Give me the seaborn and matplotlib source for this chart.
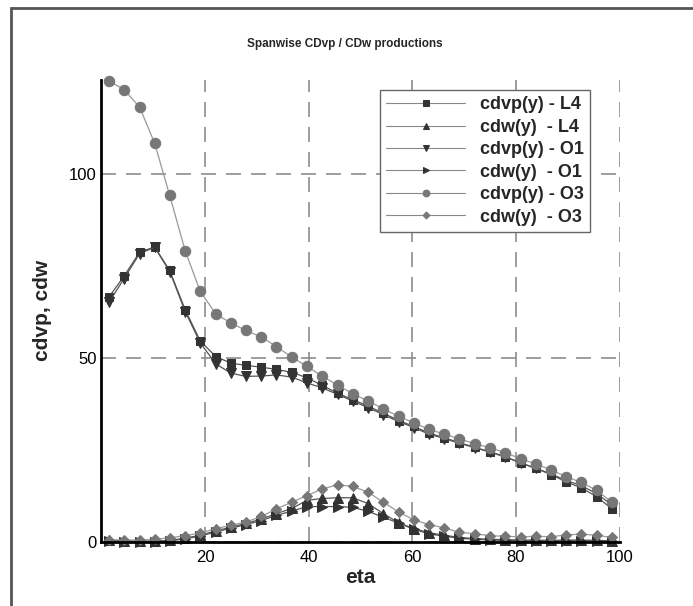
import numpy as np
import matplotlib
matplotlib.use("Agg")
import matplotlib.pyplot as plt
from matplotlib.patches import Rectangle
from matplotlib.ticker import MultipleLocator
import seaborn as sns

# spanwise stations (eta, %)
eta = [1.5, 4.4, 7.4, 10.3, 13.2, 16.2, 19.1, 22.1, 25.0, 27.9, 30.9, 33.8,
       36.8, 39.7, 42.6, 45.6, 48.5, 51.5, 54.4, 57.4, 60.3, 63.2, 66.2, 69.1,
       72.1, 75.0, 77.9, 80.9, 83.8, 86.8, 89.7, 92.6, 95.6, 98.5]

cdvp_L4 = [66.5, 72.2, 78.7, 80.1, 73.7, 63.0, 54.5, 50.3, 48.5, 47.9, 47.4, 46.8,
           46.0, 44.5, 42.5, 40.3, 38.6, 36.8, 34.9, 32.9, 31.3, 29.5, 28.2, 26.9,
           25.6, 24.4, 23.1, 21.4, 19.9, 18.2, 16.2, 14.6, 12.2, 8.9]
cdw_L4 = [0.3, 0.2, 0.1, 0.1, 0.3, 0.9, 1.7, 2.9, 3.9, 4.9, 6.1, 7.6,
          9.0, 11.2, 11.7, 11.9, 11.9, 10.3, 7.6, 5.1, 3.5, 2.4, 1.7, 1.1,
          0.8, 0.6, 0.5, 0.4, 0.4, 0.3, 0.4, 0.4, 0.3, 0.2]
cdvp_O1 = [65.1, 71.5, 78.3, 80.0, 73.4, 62.5, 54.0, 48.3, 45.8, 44.9, 45.0, 45.3,
           44.7, 43.1, 41.8, 40.0, 38.2, 36.4, 34.5, 32.6, 31.0, 29.2, 28.0, 26.7,
           25.5, 24.3, 23.0, 21.4, 19.9, 18.4, 16.6, 15.2, 13.0, 10.0]
cdw_O1 = [0.1, 0.0, 0.0, 0.0, 0.2, 0.7, 1.5, 2.6, 3.6, 4.6, 5.7, 7.1,
          8.3, 9.5, 9.5, 9.5, 9.3, 8.2, 6.6, 5.0, 3.3, 2.1, 1.4, 0.9,
          0.6, 0.4, 0.3, 0.2, 0.2, 0.2, 0.2, 0.2, 0.2, 0.1]
cdvp_O3 = [125.2, 122.9, 118.1, 108.3, 94.1, 79.0, 68.0, 61.9, 59.4, 57.4, 55.6, 53.0,
           50.1, 47.6, 45.0, 42.5, 40.2, 38.2, 36.1, 34.0, 32.3, 30.5, 29.2, 27.9,
           26.6, 25.5, 24.2, 22.5, 21.1, 19.5, 17.6, 16.1, 13.9, 10.7]
cdw_O3 = [0.5, 0.4, 0.4, 0.6, 1.0, 1.6, 2.3, 3.5, 4.4, 5.3, 6.8, 8.9,
          10.7, 12.5, 14.3, 15.4, 15.0, 13.4, 10.7, 8.0, 5.9, 4.6, 3.7, 2.5,
          2.1, 1.6, 1.4, 1.3, 1.4, 1.3, 1.8, 2.0, 1.7, 1.1]

labels = ["cdvp(y) - L4", "cdw(y)  - L4", "cdvp(y) - O1",
          "cdw(y)  - O1", "cdvp(y) - O3", "cdw(y)  - O3"]

sns.set_style("white")
plt.rcParams['font.family'] = ['Liberation Sans', 'DejaVu Sans']

fig = plt.figure(figsize=(6.93, 6.06), dpi=100)
ax = fig.add_axes([101.3 / 693, 1 - 541.5 / 606, 518.2 / 693, 461.5 / 606])

series = [
    (cdvp_L4, 's', 6.0, '#333333', '#555555'),
    (cdw_L4, '^', 6.5, '#333333', '#555555'),
    (cdvp_O1, 'v', 6.5, '#333333', '#555555'),
    (cdw_O1, '>', 6.5, '#333333', '#555555'),
    (cdvp_O3, 'o', 7.5, '#777777', '#999999'),
    (cdw_O3, 'D', 5.5, '#777777', '#999999'),
]

for (vals, mk, ms, mcol, lcol), lab in zip(series, labels):
    sns.lineplot(x=eta, y=vals, ax=ax, color=lcol, linewidth=0.9,
                 marker=mk, markersize=ms, markerfacecolor=mcol,
                 markeredgecolor=mcol, label=lab, clip_on=False)

ax.set_xlim(0, 100)
ax.set_ylim(0, 125.5)
ax.set_xticks([20, 40, 60, 80, 100])
ax.set_yticks([0, 50, 100])
ax.xaxis.set_minor_locator(MultipleLocator(5))
ax.yaxis.set_minor_locator(MultipleLocator(10))
ax.tick_params(which='major', direction='in', length=8, width=1.5,
               labelsize=12, colors='black')
ax.tick_params(which='minor', direction='in', length=4, width=1)
ax.tick_params(axis='x', pad=6)

ax.grid(True, which='major', color='#8c8c8c', linestyle=(0, (9, 6)), linewidth=1.2)
for s in ['top', 'right']:
    ax.spines[s].set_visible(False)
for s in ['left', 'bottom']:
    ax.spines[s].set_color('black')
    ax.spines[s].set_linewidth(2)

ax.set_xlabel('eta', fontsize=15, fontweight='bold', labelpad=2)
ax.set_ylabel('cdvp, cdw', fontsize=15, fontweight='bold', labelpad=12)

leg = ax.legend(loc='upper right', bbox_to_anchor=(0.943, 0.978),
                borderaxespad=0, fancybox=False, framealpha=1,
                edgecolor='#666666', prop={'size': 13, 'weight': 'bold'},
                handlelength=4.4, labelspacing=0.3, borderpad=0.35,
                handletextpad=0.8, markerscale=0.65)
leg.get_frame().set_linewidth(1.0)
for line in leg.get_lines():
    line.set_color('#888888')
    line.set_linewidth(0.8)

fig.text(345 / 693, 1 - 44 / 606, 'Spanwise CDvp / CDw productions',
         ha='center', va='center', fontsize=8.5, fontweight='bold')

fig.add_artist(Rectangle((11 / 693, -0.1), 1.0, 1.1 - 8 / 606, fill=False,
                         edgecolor='#555555', linewidth=2,
                         transform=fig.transFigure, clip_on=False))

fig.savefig('out.png', dpi=100)
